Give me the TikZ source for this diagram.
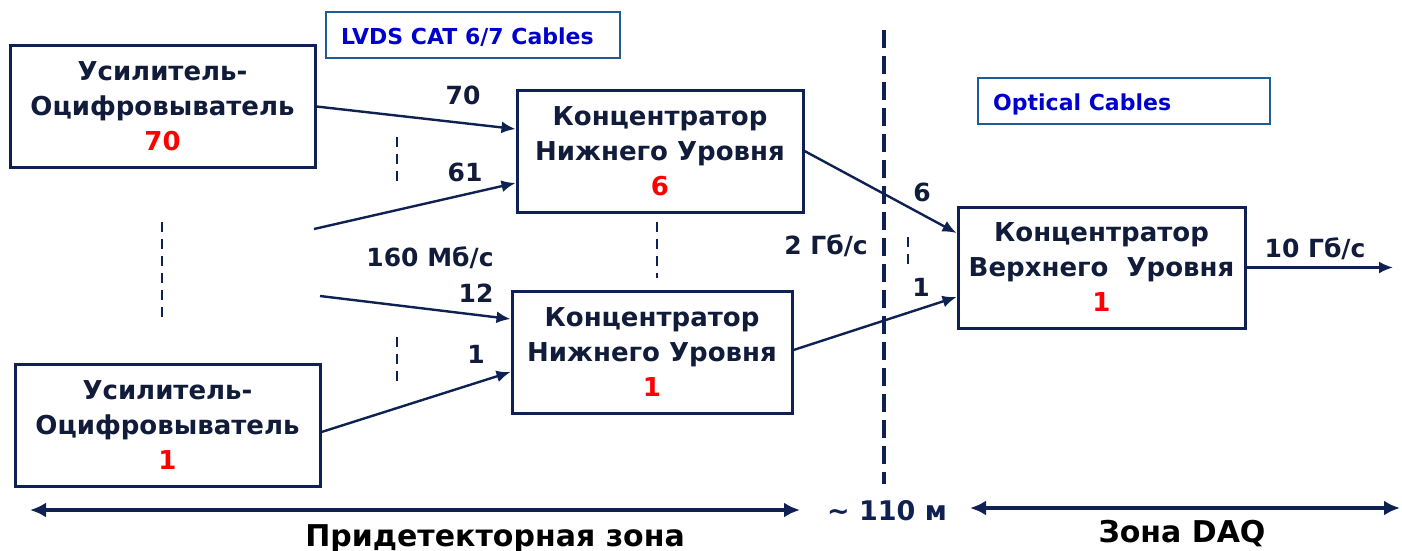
\documentclass[tikz,border=0pt]{standalone}
\usepackage{fontspec}
\setmainfont{DejaVu Sans}
\usetikzlibrary{arrows.meta}
\definecolor{navy}{HTML}{0E2152}
\definecolor{ink}{HTML}{111B3A}
\definecolor{cablesblue}{HTML}{0000CC}
\definecolor{framesteel}{HTML}{1F5C96}
\definecolor{numred}{HTML}{FF0000}
\tikzset{
  unit/.style={draw=navy, line width=3pt, align=center, inner sep=0pt,
    text=ink, font=\bfseries\fontsize{26}{35}\selectfont},
  tag/.style={draw=framesteel, line width=1.8pt, minimum width=294pt, minimum height=46pt,
    inner sep=0pt},
  tagtext/.style={anchor=base west, inner sep=0pt, text=cablesblue,
    font=\bfseries\fontsize{22}{26}\selectfont},
  lbl/.style={anchor=base, inner sep=0pt, text=ink, font=\bfseries\fontsize{25}{30}\selectfont},
  zone/.style={anchor=base, inner sep=0pt, text=black, font=\bfseries\fontsize{30}{34}\selectfont},
  link/.style={draw=navy, line width=2.4pt, -{Latex[length=14pt,width=12pt]}},
  span/.style={draw=navy, line width=3.2pt, {Latex[length=16pt,width=15pt]}-{Latex[length=16pt,width=15pt]}},
  gap/.style={draw=navy, line width=2.2pt, dash pattern=on 10pt off 7pt},
  border/.style={draw=navy, line width=3.8pt, dash pattern=on 18pt off 8pt}
}
\newcommand{\rn}[1]{\textcolor{numred}{#1}}
\begin{document}
\begin{tikzpicture}[x=1pt,y=-1pt]
\useasboundingbox (0,0) rectangle (1402,551);

% cable type tags
\node[tag] (lvds) at (473,35) {};
\node[tagtext] (lvdsT) at (341,45) {LVDS CAT 6/7 Cables};
\node[tag, minimum width=292pt] (opt) at (1124,101) {};
\node[tagtext] (optT) at (993,110) {Optical Cables};

% amplifier-digitiser units
\node[unit, minimum width=305pt, minimum height=121pt] (A1) at (162.5,106.5)
  {Усилитель-\\Оцифровыватель\\\rn{70}};
\node[unit, minimum width=305pt, minimum height=122pt] (A2) at (167.5,425)
  {Усилитель-\\Оцифровыватель\\\rn{1}};

% lower-level concentrators
\node[unit, minimum width=286pt, minimum height=122pt] (C6) at (660,151)
  {Концентратор\\Нижнего Уровня\\\rn{6}};
\node[unit, minimum width=280pt, minimum height=122pt] (C1) at (652,352)
  {Концентратор\\Нижнего Уровня\\\rn{1}};

% upper-level concentrator
\node[unit, minimum width=287pt, minimum height=121pt] (V) at (1101.5,267.5)
  {Концентратор\\Верхнего\ \ Уровня\\\rn{1}};

% loose cable ends
\coordinate (s61) at (314,229);
\coordinate (s12) at (320,296);
\coordinate (out) at (1393,267.5);

% cables
\draw[link] (A1.east) -- ([yshift=22pt]C6.west);
\draw[link] (s61) -- ([yshift=-32pt]C6.west);
\draw[link] (s12) -- ([yshift=33pt]C1.west);
\draw[link] ([yshift=-7pt]A2.east) -- ([yshift=-20pt]C1.west);
\draw[link] (C6.east) -- ([yshift=34.5pt]V.west);
\draw[link] ([yshift=2pt]C1.east) -- ([yshift=-29.5pt]V.west);
\draw[link] (V.east) -- (out);

% omitted-channel marks
\draw[gap] (397,137) -- (397,185);
\draw[gap] (162,222) -- (162,320);
\draw[gap] (657,222) -- (657,278);
\draw[gap] (397,337) -- (397,384);
\draw[gap] (908,237) -- (908,268);

% zone boundary
\draw[border] (884,30) -- (884,484);

% cable labels
\node[lbl] (n70) at (463,104) {70};
\node[lbl] (n61) at (465,181) {61};
\node[lbl] (r160) at (430,266) {160 Мб/с};
\node[lbl] (n12) at (476,302) {12};
\node[lbl] (n1a) at (476,363) {1};
\node[lbl] (n6) at (922,201) {6};
\node[lbl] (r2) at (826,254) {2 Гб/с};
\node[lbl] (n1b) at (921,296) {1};
\node[lbl] (r10) at (1315,257) {10 Гб/с};

% zones
\coordinate (zl) at (30,510);
\coordinate (zr) at (800,510);
\coordinate (dl) at (970,508);
\coordinate (dr) at (1400,508);
\draw[span] (zl) -- (zr);
\draw[span] (dl) -- (dr);
\node[lbl, text=navy, font=\bfseries\fontsize{27}{30}\selectfont] (dist) at (887,520) {\textasciitilde\ 110 м};
\node[zone] (zpre) at (495,546) {Придетекторная зона};
\node[zone] (zdaq) at (1182,542) {Зона DAQ};
\end{tikzpicture}
\end{document}
